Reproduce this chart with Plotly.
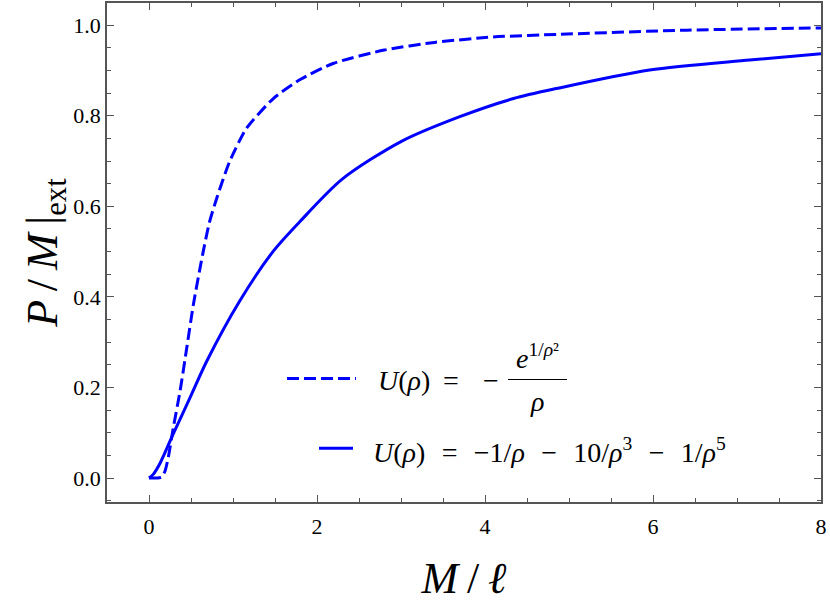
import plotly.graph_objects as go

# dashed curve: U(rho) = -exp(1/rho^2)/rho
x_exp = [0, 0.10, 0.15, 0.19, 0.23, 0.29, 0.37, 0.45, 0.53, 0.64, 0.72, 0.81, 0.96, 1.16,
         1.48, 1.80, 2.20, 2.80, 3.40, 4.10, 4.90, 6.40, 8.00]
y_exp = [0, 0, 0.002, 0.015, 0.046, 0.112, 0.192, 0.288, 0.385, 0.495, 0.565, 0.620, 0.699,
         0.772, 0.838, 0.880, 0.916, 0.945, 0.962, 0.974, 0.980, 0.989, 0.994]

# solid curve: U(rho) = -1/rho - 10/rho^3 - 1/rho^5
x_poly = [0, 0.05, 0.13, 0.29, 0.49, 0.69, 1.08, 1.48, 1.80, 2.30, 3.00, 3.70, 4.34,
          4.85, 5.96, 7.15, 8.00]
y_poly = [0, 0.008, 0.032, 0.098, 0.178, 0.259, 0.391, 0.501, 0.567, 0.660, 0.743, 0.798,
          0.838, 0.860, 0.901, 0.923, 0.937]

FONT = "Liberation Serif"
BLUE = "#0000ff"
AX = "#555555"
TS = "\u2009"          # thin space
SP = "\u2002\u200a"    # en + hair space, roughly TeX operator spacing


def px_x(p):
    # pixel column -> paper x (plot area spans 107..821)
    return (p - 107) / 714


def px_y(p):
    # pixel row -> paper y (plot area spans 1..502)
    return (502 - p) / 501


fig = go.Figure()
fig.add_trace(go.Scatter(x=x_exp, y=y_exp, mode="lines", line_shape="spline",
                         line=dict(color=BLUE, width=3, dash="12px,5px", smoothing=0.6),
                         showlegend=False))
fig.add_trace(go.Scatter(x=x_poly, y=y_poly, mode="lines", line_shape="spline",
                         line=dict(color=BLUE, width=3, smoothing=0.8), showlegend=False))

axis_common = dict(
    showline=True, mirror="allticks", linecolor=AX, linewidth=1.5,
    ticks="inside", ticklen=7, tickwidth=1.2, tickcolor=AX,
    showgrid=False, zeroline=False,
    tickfont=dict(family=FONT, size=22, color="black"),
)

fig.update_xaxes(
    **axis_common, range=[-0.5, 8], tick0=0, dtick=2, ticklabelstandoff=4,
    minor=dict(dtick=0.5, tick0=0, ticks="inside", ticklen=4, tickcolor=AX),
    title=dict(text=f"<i>M</i>{TS}/{TS}<i>ℓ</i>",
               font=dict(family=FONT, size=44, color="black"), standoff=24),
)
fig.update_yaxes(
    **axis_common, range=[-0.053, 1.049], tick0=0, dtick=0.2, tickformat=".1f",
    minor=dict(dtick=0.05, tick0=0, ticks="inside", ticklen=4, tickcolor=AX),
    title=dict(text=f"<i>P</i>{TS}/{TS}<i>M</i>{TS}|<sub>ext</sub>",
               font=dict(family=FONT, size=44, color="black"), standoff=2),
)

# hand-built legend (the first label is a stacked fraction)
leg_font = dict(family=FONT, size=28, color="black")
fig.add_shape(type="line", xref="paper", yref="paper", x0=px_x(287), x1=px_x(356),
              y0=px_y(378), y1=px_y(378), line=dict(color=BLUE, width=3, dash="12px,5px"))
fig.add_shape(type="line", xref="paper", yref="paper", x0=px_x(319), x1=px_x(353),
              y0=px_y(448), y1=px_y(448), line=dict(color=BLUE, width=3))

fig.add_annotation(xref="paper", yref="paper", x=px_x(376), y=px_y(380), xanchor="left",
                   yanchor="middle", text="<i>U</i>(<i>ρ</i>)", showarrow=False, font=leg_font)
fig.add_annotation(xref="paper", yref="paper", x=px_x(451), y=px_y(380), xanchor="center",
                   yanchor="middle", text="=", showarrow=False, font=leg_font)
fig.add_annotation(xref="paper", yref="paper", x=px_x(491), y=px_y(380), xanchor="center",
                   yanchor="middle", text="−", showarrow=False, font=leg_font)
fig.add_shape(type="line", xref="paper", yref="paper", x0=px_x(508), x1=px_x(567),
              y0=px_y(379), y1=px_y(379), line=dict(color="black", width=1.2))
fig.add_annotation(xref="paper", yref="paper", x=px_x(537), y=px_y(375), xanchor="center",
                   yanchor="bottom", text="<i>e</i><sup>1/<i>ρ</i>²</sup>", showarrow=False,
                   font=leg_font)
fig.add_annotation(xref="paper", yref="paper", x=px_x(537), y=px_y(384), xanchor="center",
                   yanchor="top", text="<i>ρ</i>", showarrow=False, font=leg_font)
fig.add_annotation(xref="paper", yref="paper", x=px_x(371), y=px_y(450), xanchor="left",
                   yanchor="middle",
                   text=(f"<i>U</i>(<i>ρ</i>){SP}={SP}−1/<i>ρ</i>{SP}−{SP}10/<i>ρ</i><sup>3</sup>"
                         f"{SP}−{SP}1/<i>ρ</i><sup>5</sup>"),
                   showarrow=False, font=leg_font)

fig.update_layout(
    width=830, height=615,
    margin=dict(l=107, r=9, t=1, b=113),
    paper_bgcolor="white", plot_bgcolor="white",
    font=dict(family=FONT),
)

fig.write_html("out.html", config={"displayModeBar": False},
               post_script="document.body.style.margin='0';")
